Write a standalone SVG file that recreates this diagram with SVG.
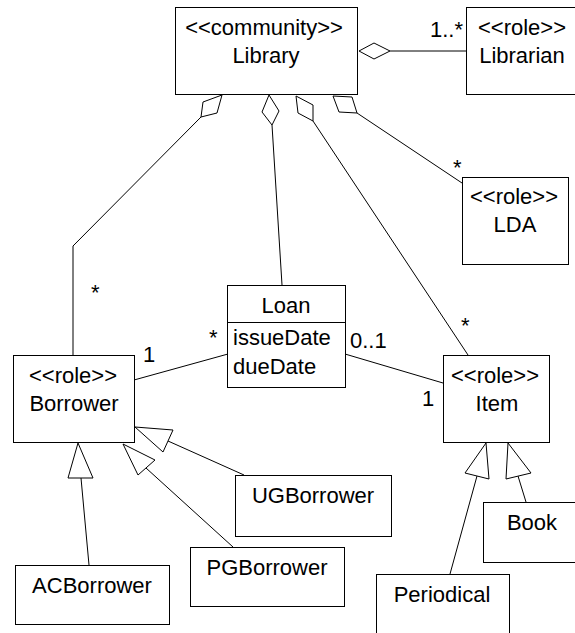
<svg xmlns="http://www.w3.org/2000/svg" width="575" height="633" viewBox="0 0 575 633">
  <style>
    .box { fill: #fff; stroke: #000; stroke-width: 1; }
    .t { font-family: "Liberation Sans", Arial, sans-serif; font-size: 22px; fill: #000; }
    .c { text-anchor: middle; }
    .ln { fill: none; stroke: #000; stroke-width: 1; }
    .dia { fill: #fff; stroke: #000; stroke-width: 1; }
    .tri { fill: #fff; stroke: #000; stroke-width: 1; }
  </style>
  <rect width="575" height="633" fill="#fff"/>

  <!-- associations and generalisations -->
  <g id="connectors">
    <!-- aggregations from Library -->
    <polyline class="ln" points="390,51 466,51"/>
    <polygon class="dia" points="359,51 374,43 390,51 374,59"/>
    <polyline class="ln" points="201,117 73,246 73,355"/>
    <polygon class="dia" points="222,95 203,102 201,117 217,113"/>
    <polyline class="ln" points="272,125 282,285"/>
    <polygon class="dia" points="269,95 262,112 272,125 279,111"/>
    <polyline class="ln" points="313,121 468,355"/>
    <polygon class="dia" points="296,96 313,105 313,121 298,113"/>
    <polyline class="ln" points="357,113 462,183"/>
    <polygon class="dia" points="333,96 352,97 357,113 339,112"/>
    <!-- Loan associations -->
    <polyline class="ln" points="134,380 228,354"/>
    <polyline class="ln" points="345,354 443,383"/>
    <!-- Borrower subclasses -->
    <polyline class="ln" points="81,478 89,565"/>
    <polygon class="tri" points="78,443 68,478 93,478"/>
    <polyline class="ln" points="146,468 233,547"/>
    <polygon class="tri" points="123,444 155,460 138,475"/>
    <polyline class="ln" points="168,441 244,475"/>
    <polygon class="tri" points="135,427 173,430 163,452"/>
    <!-- Item subclasses -->
    <polyline class="ln" points="477,476 450,574"/>
    <polygon class="tri" points="486,443 465,473 489,479"/>
    <polyline class="ln" points="518,476 526,502"/>
    <polygon class="tri" points="508,443 506,479 531,473"/>
    <!-- multiplicities -->
    <text class="t" x="430" y="37">1..*</text>
    <text class="t" x="91" y="300">*</text>
    <text class="t" x="453" y="175">*</text>
    <text class="t" x="461" y="333">*</text>
    <text class="t" x="209" y="345">*</text>
    <text class="t" x="143" y="362">1</text>
    <text class="t" x="350" y="348">0..1</text>
    <text class="t" x="422" y="406">1</text>
  </g>

  <g id="library">
    <rect class="box" x="175.5" y="7.5" width="182" height="87"/>
    <text class="t c" x="264" y="35">&lt;&lt;community&gt;&gt;</text>
    <text class="t c" x="266" y="63">Library</text>
  </g>
  <g id="librarian">
    <rect class="box" x="466.5" y="7.5" width="112" height="87"/>
    <text class="t c" x="522" y="35">&lt;&lt;role&gt;&gt;</text>
    <text class="t c" x="522" y="63">Librarian</text>
  </g>
  <g id="lda">
    <rect class="box" x="462.5" y="177.5" width="106" height="87"/>
    <text class="t c" x="514" y="204">&lt;&lt;role&gt;&gt;</text>
    <text class="t c" x="515" y="232">LDA</text>
  </g>
  <g id="loan">
    <rect class="box" x="227.5" y="285.5" width="118" height="102"/>
    <line class="ln" x1="227.5" y1="322.5" x2="345.5" y2="322.5"/>
    <text class="t c" x="286" y="313">Loan</text>
    <text class="t" x="233" y="345">issueDate</text>
    <text class="t" x="233" y="374">dueDate</text>
  </g>
  <g id="borrower">
    <rect class="box" x="13.5" y="355.5" width="121" height="87"/>
    <text class="t c" x="73" y="383">&lt;&lt;role&gt;&gt;</text>
    <text class="t c" x="74" y="411">Borrower</text>
  </g>
  <g id="item">
    <rect class="box" x="443.5" y="355.5" width="106" height="87"/>
    <text class="t c" x="495" y="383">&lt;&lt;role&gt;&gt;</text>
    <text class="t c" x="497" y="411">Item</text>
  </g>
  <g id="ugborrower">
    <rect class="box" x="235.5" y="475.5" width="156" height="61"/>
    <text class="t c" x="313" y="503">UGBorrower</text>
  </g>
  <g id="pgborrower">
    <rect class="box" x="190.5" y="547.5" width="154" height="59"/>
    <text class="t c" x="267" y="575">PGBorrower</text>
  </g>
  <g id="acborrower">
    <rect class="box" x="15.5" y="565.5" width="154" height="59"/>
    <text class="t c" x="92" y="593">ACBorrower</text>
  </g>
  <g id="book">
    <rect class="box" x="483.5" y="502.5" width="100" height="60"/>
    <text class="t c" x="532" y="530">Book</text>
  </g>
  <g id="periodical">
    <rect class="box" x="376.5" y="574.5" width="133" height="70"/>
    <text class="t c" x="442" y="602">Periodical</text>
  </g>
</svg>
